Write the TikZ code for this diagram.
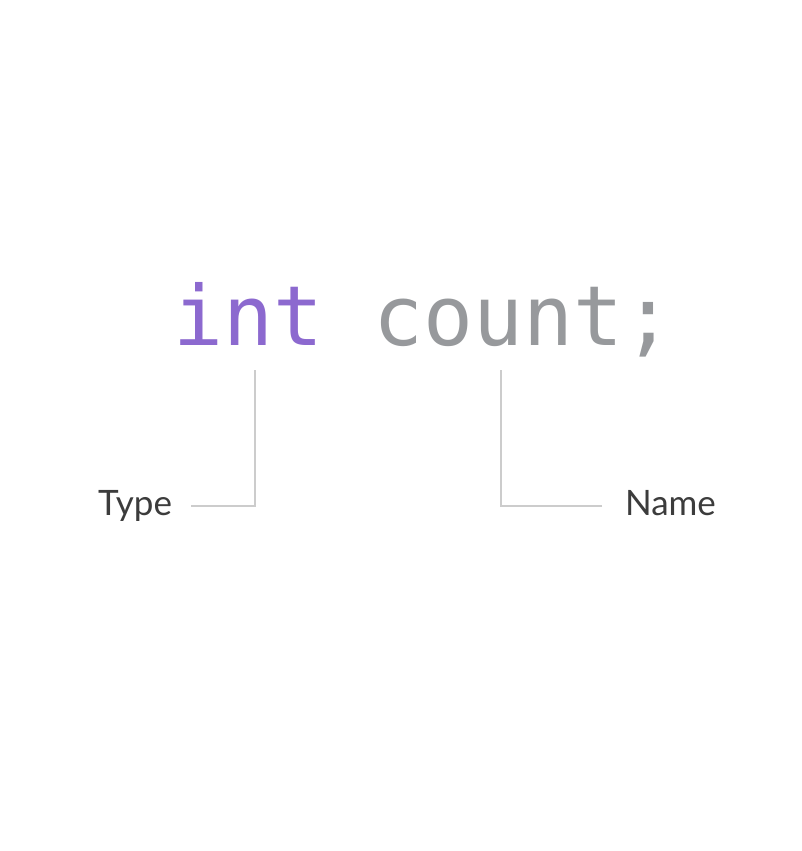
\documentclass[tikz,border=0pt]{standalone}
\usepackage{fontspec}
\setmainfont{Lato}
\newfontfamily\codefont{DejaVu Sans Mono}
\usetikzlibrary{positioning}
\definecolor{kwpurple}{HTML}{8C69CF}
\definecolor{idgray}{HTML}{97999C}
\definecolor{leadgray}{HTML}{CCCCCC}
\definecolor{labelgray}{HTML}{3C3C3C}

\begin{document}
\begin{tikzpicture}[x=1pt,y=-1pt,
	code/.style={inner sep=0pt,text depth=0pt,font=\codefont\fontsize{83}{90}\selectfont},
	label/.style={inner sep=0pt,outer xsep=19pt,text height=26pt,text depth=7pt,
		text=labelgray,font=\fontsize{35}{40}\selectfont},
	leader/.style={draw=leadgray,line width=2pt}]
\fill[white] (0,0) rectangle (802,851);
\useasboundingbox (0,0) rectangle (802,851);

% the declaration
\node[code,text=kwpurple,anchor=base west] (kw) at (173,345) {int};
\node[code,text=idgray,base right=50pt of kw] (ident) {count;};

% labels
\node[label,anchor=east] (type) at (191,506) {Type};
\node[label,outer xsep=23pt,anchor=west] (name) at (602,506) {Name};

% leaders
\coordinate (typetop) at ([xshift=7pt,yshift=-25pt]kw.south);
\coordinate (nametop) at ([xshift=-22pt,yshift=-25pt]ident.south);
\draw[leader] (type) -| (typetop);
\draw[leader] (name) -| (nametop);
\end{tikzpicture}
\end{document}
